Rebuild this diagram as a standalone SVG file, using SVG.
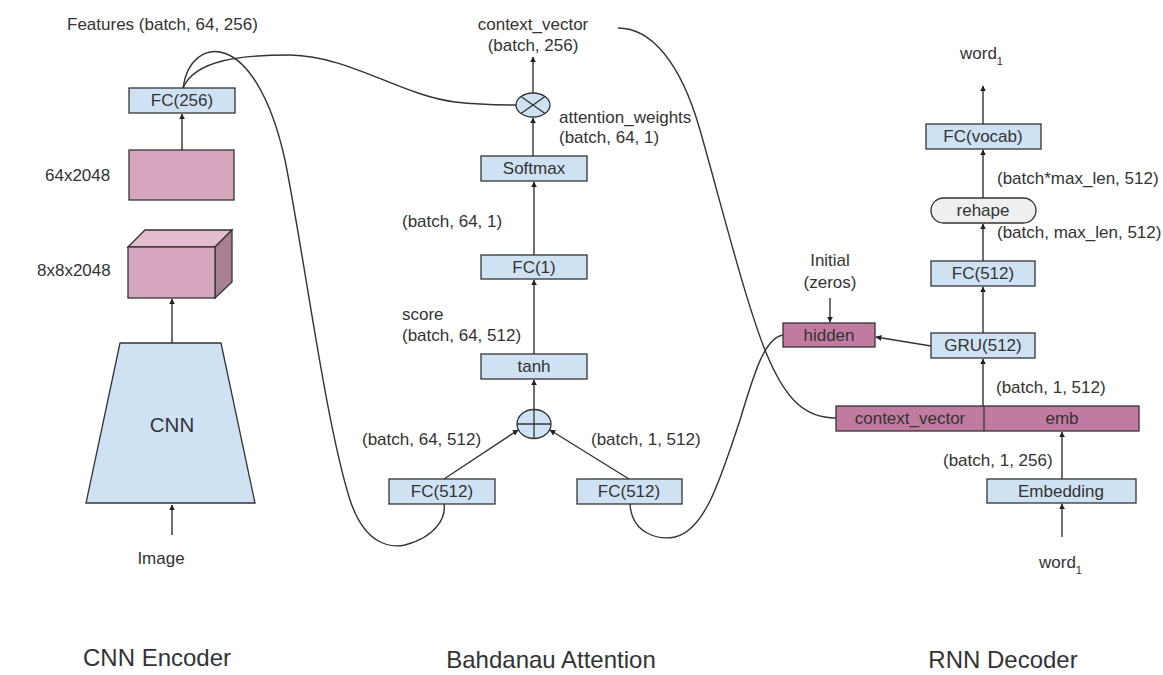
<svg xmlns="http://www.w3.org/2000/svg" width="1163" height="675" viewBox="0 0 1163 675">
  <defs>
    <marker id="arrow" viewBox="0 0 10 10" refX="9" refY="5" markerWidth="6" markerHeight="7" orient="auto-start-reverse" markerUnits="userSpaceOnUse">
      <path d="M0,0 L10,5 L0,10 z" fill="#222"/>
    </marker>
    <style>
      text { font-family: "Liberation Sans", Arial, sans-serif; fill: #333; }
      .lbl { font-size: 17px; }
      .mid { text-anchor: middle; }
      .title { font-size: 24px; text-anchor: middle; }
      .blue { fill: #cfe2f3; stroke: #333; stroke-width: 1.3; }
      .pink { fill: #d5a6bd; stroke: #333; stroke-width: 1.3; }
      .mag { fill: #c27ba0; stroke: #333; stroke-width: 1.3; }
      .pill { fill: #efefef; stroke: #333; stroke-width: 1.3; }
      .edge { fill: none; stroke: #333; stroke-width: 1.4; }
      .arr { fill: none; stroke: #333; stroke-width: 1.4; marker-end: url(#arrow); }
    </style>
  </defs>

  <rect width="1163" height="675" fill="#ffffff"/>

  <!-- CNN encoder -->
  <g id="cnn">
    <polygon class="blue" points="120,343 221,343 255,503 86,503"/>
    <text x="172" y="432" class="mid" style="font-size:20.5px">CNN</text>
  </g>
  <g id="image-input">
    <text x="161" y="564" class="lbl mid">Image</text>
  </g>
  <g id="feature-cube">
    <polygon points="128,247 145,230 232,230 215,247" fill="#e3bdcf" stroke="#333" stroke-width="1.3"/>
    <polygon points="215,247 232,230 232,282 215,298" fill="#a97f93" stroke="#333" stroke-width="1.3"/>
    <rect class="pink" x="128" y="247" width="87" height="51"/>
    <text x="37" y="276" class="lbl">8x8x2048</text>
  </g>
  <g id="feature-map">
    <rect class="pink" x="129" y="150" width="105" height="50"/>
    <text x="45" y="181" class="lbl">64x2048</text>
  </g>
  <g id="fc256">
    <rect class="blue" x="129" y="88" width="106" height="25"/>
    <text x="182" y="106" class="lbl mid">FC(256)</text>
  </g>
  <text x="67" y="30" class="lbl">Features (batch, 64, 256)</text>
  <text x="157" y="666" class="title">CNN Encoder</text>

  <!-- Bahdanau attention -->
  <g id="fc512-features">
    <rect class="blue" x="389" y="479" width="106" height="25"/>
    <text x="442" y="497" class="lbl mid">FC(512)</text>
  </g>
  <g id="fc512-hidden">
    <rect class="blue" x="577" y="479" width="105" height="25"/>
    <text x="629" y="497" class="lbl mid">FC(512)</text>
  </g>
  <g id="add">
    <ellipse class="blue" cx="534" cy="424" rx="17" ry="14.5"/>
    <line x1="517" y1="424" x2="551" y2="424" stroke="#333" stroke-width="1.3"/>
    <line x1="534" y1="409.5" x2="534" y2="438.5" stroke="#333" stroke-width="1.3"/>
  </g>
  <g id="tanh">
    <rect class="blue" x="481" y="354" width="106" height="25"/>
    <text x="534" y="372" class="lbl mid">tanh</text>
  </g>
  <g id="fc1">
    <rect class="blue" x="481" y="255" width="106" height="24"/>
    <text x="534" y="273" class="lbl mid">FC(1)</text>
  </g>
  <g id="softmax">
    <rect class="blue" x="481" y="156" width="106" height="25"/>
    <text x="534" y="174" class="lbl mid">Softmax</text>
  </g>
  <g id="multiply">
    <ellipse class="blue" cx="533" cy="105" rx="17" ry="12"/>
    <line x1="521" y1="96.5" x2="545" y2="113.5" stroke="#333" stroke-width="1.3"/>
    <line x1="521" y1="113.5" x2="545" y2="96.5" stroke="#333" stroke-width="1.3"/>
  </g>
  <text x="533" y="30" class="lbl mid">context_vector</text>
  <text x="533" y="51" class="lbl mid">(batch, 256)</text>
  <text x="559" y="123" class="lbl">attention_weights</text>
  <text x="559" y="143" class="lbl">(batch, 64, 1)</text>
  <text x="402" y="227" class="lbl">(batch, 64, 1)</text>
  <text x="402" y="320" class="lbl">score</text>
  <text x="402" y="341" class="lbl">(batch, 64, 512)</text>
  <text x="362" y="445" class="lbl">(batch, 64, 512)</text>
  <text x="591" y="445" class="lbl">(batch, 1, 512)</text>
  <text x="551" y="668" class="title">Bahdanau Attention</text>

  <!-- RNN decoder -->
  <g id="embedding">
    <rect class="blue" x="987" y="479" width="149" height="24"/>
    <text x="1061" y="497" class="lbl mid">Embedding</text>
  </g>
  <g id="concat">
    <rect class="mag" x="836" y="406" width="303" height="25"/>
    <line x1="984" y1="406" x2="984" y2="431" stroke="#333" stroke-width="1.3"/>
    <text x="910" y="424" class="lbl mid">context_vector</text>
    <text x="1062" y="424" class="lbl mid">emb</text>
  </g>
  <g id="gru">
    <rect class="blue" x="931" y="333" width="104" height="25"/>
    <text x="983" y="351" class="lbl mid">GRU(512)</text>
  </g>
  <g id="hidden">
    <rect class="mag" x="783" y="323" width="92" height="24"/>
    <text x="829" y="341" class="lbl mid">hidden</text>
  </g>
  <g id="fc512-out">
    <rect class="blue" x="931" y="261" width="104" height="25"/>
    <text x="983" y="279" class="lbl mid">FC(512)</text>
  </g>
  <g id="reshape">
    <rect class="pill" x="931" y="198" width="105" height="25" rx="12.5" ry="12.5"/>
    <text x="983" y="216" class="lbl mid">rehape</text>
  </g>
  <g id="fc-vocab">
    <rect class="blue" x="926" y="124" width="115" height="25"/>
    <text x="983" y="142" class="lbl mid">FC(vocab)</text>
  </g>
  <text x="960" y="59" class="lbl">word<tspan dy="6" style="font-size:11px">1</tspan></text>
  <text x="1039" y="568" class="lbl">word<tspan dy="6" style="font-size:11px">1</tspan></text>
  <text x="830" y="266" class="lbl mid">Initial</text>
  <text x="830" y="288" class="lbl mid">(zeros)</text>
  <text x="997" y="184" class="lbl">(batch*max_len, 512)</text>
  <text x="997" y="238" class="lbl">(batch, max_len, 512)</text>
  <text x="996" y="393" class="lbl">(batch, 1, 512)</text>
  <text x="943" y="466" class="lbl">(batch, 1, 256)</text>
  <text x="1003" y="668" class="title">RNN Decoder</text>

  <!-- connectors -->
  <g id="connectors">
    <line class="arr" x1="172" y1="535" x2="172" y2="505"/>
    <line class="arr" x1="172" y1="343" x2="172" y2="299"/>
    <line class="arr" x1="182" y1="150" x2="182" y2="114"/>
    <path class="edge" d="M183,88 C190,35 255,25 285,160 C305,260 325,420 350,500 C365,545 390,548 405,545 C438,536 446,516 444,504"/>
    <path class="edge" d="M183,88 C195,60 240,55 290,55 C350,56 400,95 455,102 C480,105 500,105 516,105"/>
    <line class="arr" x1="444" y1="479" x2="518" y2="430"/>
    <line class="arr" x1="629" y1="479" x2="550" y2="430"/>
    <line class="arr" x1="534" y1="409" x2="534" y2="380"/>
    <line class="arr" x1="534" y1="354" x2="534" y2="280"/>
    <line class="arr" x1="534" y1="255" x2="534" y2="182"/>
    <line class="arr" x1="533" y1="156" x2="533" y2="118"/>
    <line class="arr" x1="533" y1="93" x2="533" y2="57"/>
    <path class="edge" d="M618,28 C650,28 680,60 700,130 C720,200 745,300 765,350 C785,400 805,418 836,418"/>
    <path class="edge" d="M630,504 C632,535 660,540 675,537 C705,530 720,480 740,420 C755,370 765,338 783,335"/>
    <line class="arr" x1="1062" y1="537" x2="1062" y2="504"/>
    <line class="arr" x1="1062" y1="479" x2="1062" y2="432"/>
    <line class="arr" x1="983" y1="406" x2="983" y2="359"/>
    <line class="arr" x1="931" y1="346" x2="876" y2="337"/>
    <line class="arr" x1="830" y1="298" x2="830" y2="322"/>
    <line class="arr" x1="983" y1="333" x2="983" y2="287"/>
    <line class="arr" x1="983" y1="261" x2="983" y2="224"/>
    <line class="arr" x1="983" y1="198" x2="983" y2="150"/>
    <line class="arr" x1="983" y1="124" x2="983" y2="86"/>
  </g>
</svg>
